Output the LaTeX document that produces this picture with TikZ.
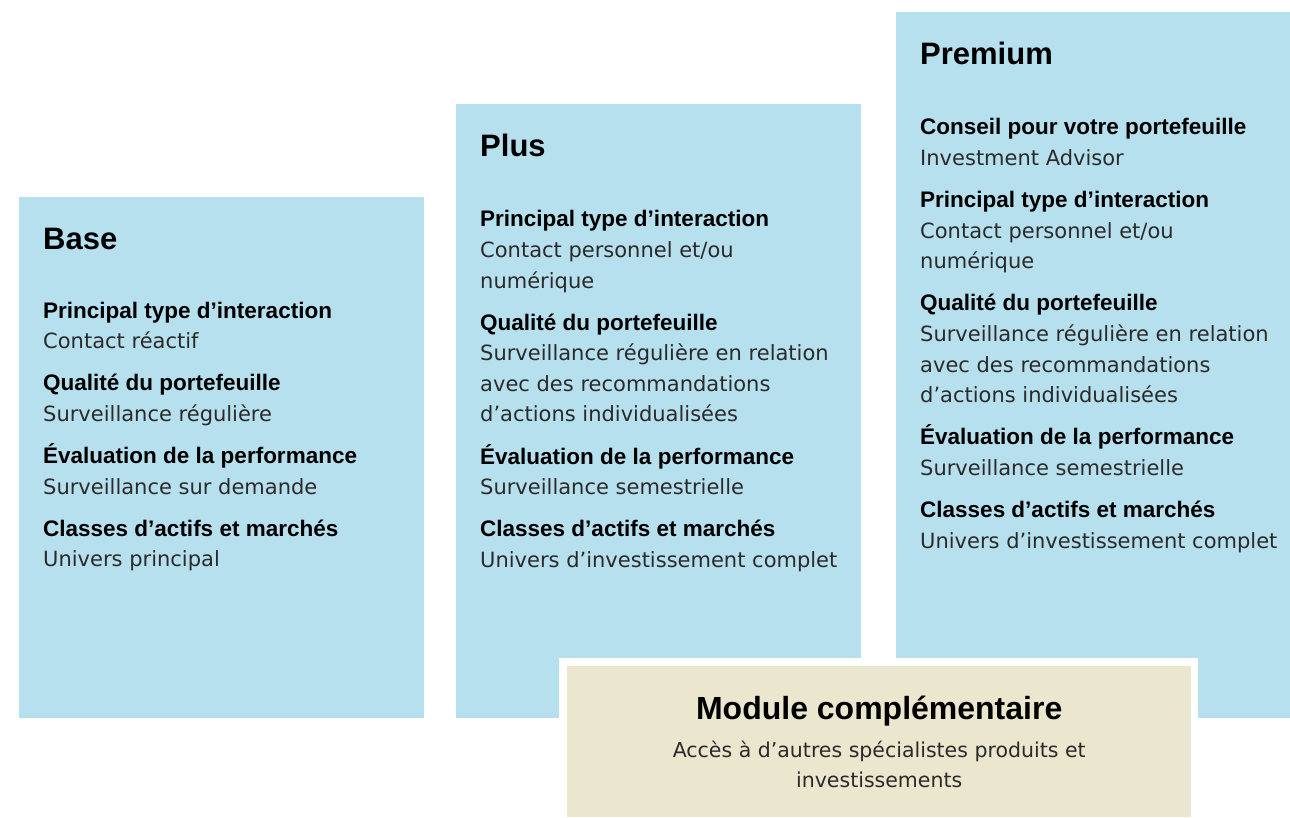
\documentclass[tikz,border=0pt]{standalone}
\usepackage{fontspec}
\setmainfont{DejaVu Sans}
\newfontfamily\hdfont{Liberation Sans}
\usetikzlibrary{positioning}

\definecolor{tierblue}{HTML}{B7E0EE}
\definecolor{addbeige}{HTML}{EBE6CE}
\definecolor{bodygray}{HTML}{2A2A2A}

\newcommand{\hd}[1]{{\hdfont\bfseries\fontsize{22.5}{30.6}\selectfont\color{black}#1}}

\begin{document}
\begin{tikzpicture}[x=1pt, y=-1pt,
    tier/.style = {fill=tierblue, draw=none, anchor=north west, inner sep=0},
    title/.style = {font=\hdfont\bfseries\fontsize{31}{36}\selectfont, inner sep=0, anchor=base west},
    sec/.style = {font=\fontsize{21}{30.6}\selectfont, text=bodygray, align=left, inner sep=0, anchor=base west}]
    \useasboundingbox (0,0) rectangle (1290,818);

    % columns
    \node[tier, minimum width=405pt, minimum height=521pt] (base) at (19,197) {};
    \node[tier, minimum width=405pt, minimum height=614pt] (plus) at (456,104) {};
    \node[tier, minimum width=394pt, minimum height=706pt] (premium) at (896,12) {};

    % Base (base anchor = last line)
    \node[title, below right=53pt and 24pt of base.north west, anchor=base west] (basetitle) {Base};
    \node[sec, below=98.6pt of basetitle.base west, anchor=base west] (base1) {\hd{Principal type d’interaction}\\Contact réactif};
    \node[sec, below=72.7pt of base1.base west, anchor=base west] (base2) {\hd{Qualité du portefeuille}\\Surveillance régulière};
    \node[sec, below=72.7pt of base2.base west, anchor=base west] (base3) {\hd{Évaluation de la performance}\\Surveillance sur demande};
    \node[sec, below=72.7pt of base3.base west, anchor=base west] (base4) {\hd{Classes d’actifs et marchés}\\Univers principal};

    % Plus
    \node[title, below right=53pt and 24pt of plus.north west, anchor=base west] (plustitle) {Plus};
    \node[sec, below=131pt of plustitle.base west, anchor=base west] (plus1) {\hd{Principal type d’interaction}\\Contact personnel et/ou\\numérique};
    \node[sec, below=133.9pt of plus1.base west, anchor=base west] (plus2) {\hd{Qualité du portefeuille}\\Surveillance régulière en relation\\avec des recommandations\\d’actions individualisées};
    \node[sec, below=72.7pt of plus2.base west, anchor=base west] (plus3) {\hd{Évaluation de la performance}\\Surveillance semestrielle};
    \node[sec, below=72.7pt of plus3.base west, anchor=base west] (plus4) {\hd{Classes d’actifs et marchés}\\Univers d’investissement complet};

    % Premium
    \node[title, below right=53pt and 24pt of premium.north west, anchor=base west] (premiumtitle) {Premium};
    \node[sec, below=100.4pt of premiumtitle.base west, anchor=base west] (premium1) {\hd{Conseil pour votre portefeuille}\\Investment Advisor};
    \node[sec, below=103.3pt of premium1.base west, anchor=base west] (premium2) {\hd{Principal type d’interaction}\\Contact personnel et/ou\\numérique};
    \node[sec, below=133.9pt of premium2.base west, anchor=base west] (premium3) {\hd{Qualité du portefeuille}\\Surveillance régulière en relation\\avec des recommandations\\d’actions individualisées};
    \node[sec, below=72.7pt of premium3.base west, anchor=base west] (premium4) {\hd{Évaluation de la performance}\\Surveillance semestrielle};
    \node[sec, below=72.7pt of premium4.base west, anchor=base west] (premium5) {\hd{Classes d’actifs et marchés}\\Univers d’investissement complet};

    % add-on module
    \node[fill=white, anchor=north west, inner sep=0, minimum width=639pt, minimum height=160pt] (frame) at (559,658) {};
    \node[fill=addbeige, anchor=north west, inner sep=0, minimum width=624pt, minimum height=151pt] (module) at (567,666) {};
    \node[title, font=\hdfont\bfseries\fontsize{32}{36}\selectfont, below=53pt of module.north, anchor=base] (moduletitle) {Module complémentaire};
    \node[sec, font=\fontsize{20.5}{29.5}\selectfont, align=center, below=68pt of moduletitle.base, anchor=base] (module1) {Accès à d’autres spécialistes produits et\\investissements};
\end{tikzpicture}
\end{document}
